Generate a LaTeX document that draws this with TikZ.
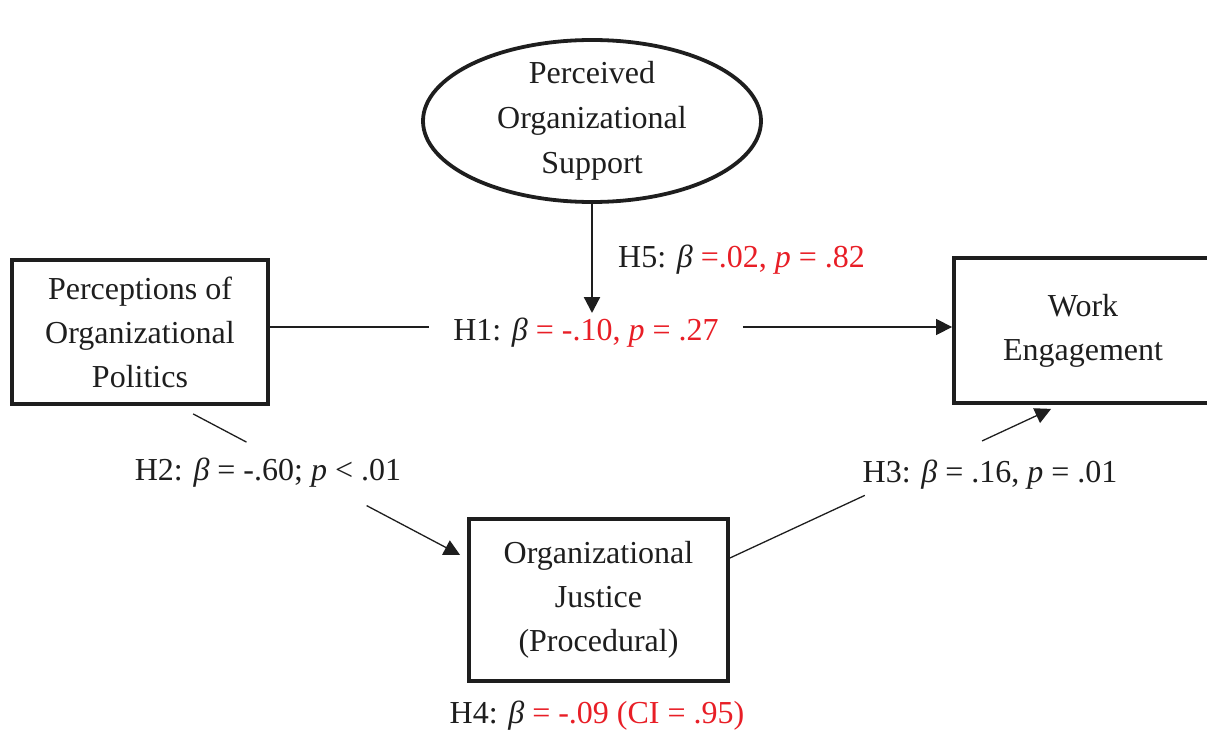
\documentclass[tikz,border=0pt]{standalone}
\usepackage{fontspec}
\setmainfont{Liberation Serif}
\usetikzlibrary{arrows.meta,calc,shapes.geometric}
\definecolor{sigred}{RGB}{232,30,38}
\definecolor{ink}{RGB}{30,30,30}
\begin{document}
\begin{tikzpicture}[x=1pt,y=-1pt,
  box/.style={draw=ink, line width=3.8pt, align=center, text=ink,
    font=\fontsize{32}{44}\selectfont, inner sep=0pt},
  lbl/.style={font=\fontsize{32}{38}\selectfont, inner sep=0pt, text=ink},
  conn/.style={draw=ink, line width=1.3pt},
  tip/.style={-{Triangle[length=16pt,width=16pt]}}
]
\useasboundingbox (0,0) rectangle (1207,733);
% nodes
\node[box, ellipse, inner xsep=0pt, inner ysep=-6pt, minimum width=338pt, minimum height=162pt,
  font=\fontsize{32}{45}\selectfont]
  (pos) at (592,121) {Perceived\\Organizational\\Support};
\node[box, minimum width=256pt, minimum height=144pt] (pop) at (140,332)
  {Perceptions of\\Organizational\\Politics};
\node[box, minimum width=258pt, minimum height=145pt] (we) at (1083,330.5)
  {Work\\Engagement};
\node[box, minimum width=259pt, minimum height=162pt] (oj) at (598.5,600)
  {Organizational\\Justice\\(Procedural)};
% labels
\node[lbl, inner xsep=24pt] (h1) at (586,333)
  {H1: \textit{β} \textcolor{sigred}{= -.10, \textit{p} = .27}};
\node[lbl, anchor=west] (h5) at (618,260)
  {H5: \textit{β} \textcolor{sigred}{=.02, \textit{p} = .82}};
\node[lbl] (h2) at (268,473) {H2: \textit{β} = -.60; \textit{p} < .01};
\node[lbl] (h3) at (990,475) {H3: \textit{β} = .16, \textit{p} = .01};
\node[lbl] (h4) at (597,716)
  {H4: \textit{β} \textcolor{sigred}{= -.09 (CI = .95)}};
% coordinates
\coordinate (h1y) at (0,327);
\coordinate (h5end) at (592,313);
\coordinate (h2s) at ($(pop.south west)+(183,8)$);
\coordinate (h2e) at ($(oj.west)+(-7,-45)$);
\coordinate (h3s) at ($(oj.east)+(0,-42)$);
\coordinate (h3e) at ($(we.south west)+(99,4)$);
% connectors
\draw[conn] (pop.east |- h1y) -- (h1.west |- h1y);
\draw[conn, tip] (h1.east |- h1y) -- (we.west |- h1y);
\draw[draw=ink, line width=2.3pt, tip] (pos.south) -- (pos.south |- h5end);
\draw[conn] (h2s) -- ($(h2s)!0.2!(h2e)$);
\draw[conn, tip] ($(h2s)!0.65!(h2e)$) -- (h2e);
\draw[conn] (h3s) -- ($(h3s)!0.42!(h3e)$);
\draw[conn, tip] ($(h3s)!0.785!(h3e)$) -- (h3e);
\end{tikzpicture}
\end{document}
